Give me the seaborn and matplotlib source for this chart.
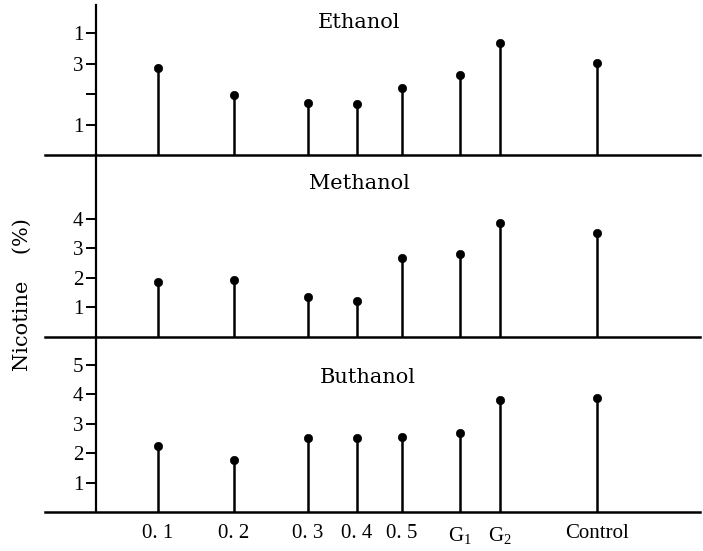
import numpy as np
import pandas as pd
import matplotlib
matplotlib.use("Agg")
import matplotlib.pyplot as plt
import seaborn as sns

# categories and readings (Nicotine %)
categories = ["0. 1", "0. 2", "0. 3", "0. 4", "0. 5", "G$_1$", "G$_2$", "Control"]
ethanol = [2.85, 1.98, 1.70, 1.67, 2.20, 2.63, 3.67, 3.03]
methanol = [1.86, 1.93, 1.35, 1.20, 2.67, 2.82, 3.86, 3.50]
buthanol = [2.24, 1.77, 2.50, 2.52, 2.55, 2.68, 3.81, 3.87]
solvents = ["Ethanol", "Methanol", "Buthanol"]

# layout (horizontal positions of the stems, axis units)
x_pos = [158, 234, 308, 357, 402, 460, 500, 597]
spine_x = 96
ylims = [4.92, 6.15, 5.95]
yticks = [[1, 2, 3, 4], [1, 2, 3, 4], [1, 2, 3, 4, 5]]
yticklabels = [["1", "", "3", "1"], ["1", "2", "3", "4"], ["1", "2", "3", "4", "5"]]
title_xy = [(359, 4.36), (359, 5.2), (368, 4.56)]

sns.set_style("ticks", {"axes.edgecolor": "black", "text.color": "black",
                        "xtick.color": "black", "ytick.color": "black"})
plt.rcParams["font.family"] = ["Liberation Serif", "DejaVu Serif"]
plt.rcParams["mathtext.fontset"] = "custom"
plt.rcParams["mathtext.rm"] = "Liberation Serif"
plt.rcParams["mathtext.it"] = "Liberation Serif:italic"
plt.rcParams["mathtext.default"] = "rm"

fig = plt.figure(figsize=(7.03, 5.51), dpi=100)
gs = fig.add_gridspec(3, 1, height_ratios=[150, 182, 175], hspace=0,
                      left=45 / 703, right=700 / 703, top=1 - 5 / 551, bottom=1 - 512 / 551)

for i, vals in enumerate([ethanol, methanol, buthanol]):
    ax = fig.add_subplot(gs[i])
    ax.patch.set_alpha(0)
    df = pd.DataFrame({"x": x_pos, "y": vals})
    ax.vlines(df["x"], 0, df["y"], color="black", lw=1.8)
    sns.scatterplot(data=df, x="x", y="y", ax=ax, color="black", s=36,
                    edgecolor="black", zorder=3, legend=False, clip_on=False)
    ax.set_xlim(45, 700)
    ax.set_ylim(0, ylims[i])
    ax.spines["top"].set_visible(False)
    ax.spines["right"].set_visible(False)
    ax.spines["left"].set_position(("data", spine_x))
    ax.spines["left"].set_linewidth(1.6)
    ax.spines["bottom"].set_linewidth(1.8)
    ax.spines["bottom"].set_zorder(4)
    ax.set_yticks(yticks[i])
    ax.set_yticklabels(yticklabels[i], fontsize=15)
    ax.tick_params(axis="y", direction="out", length=7, width=1.4, pad=2)
    ax.set_xlabel("")
    ax.set_ylabel("")
    tx, ty = title_xy[i]
    ax.text(tx, ty, solvents[i], ha="center", va="center", fontsize=15,
            family="DejaVu Serif")
    if i < 2:
        ax.set_xticks([])
    else:
        ax.set_xticks(x_pos)
        ax.set_xticklabels(categories, fontsize=15)
        ax.tick_params(axis="x", length=0, pad=9)

fig.text(22 / 703, 1 - 295 / 551, "Nicotine    (%)", rotation=90, ha="center",
         va="center", fontsize=15, family="DejaVu Serif")

fig.savefig("out.png", dpi=100)
